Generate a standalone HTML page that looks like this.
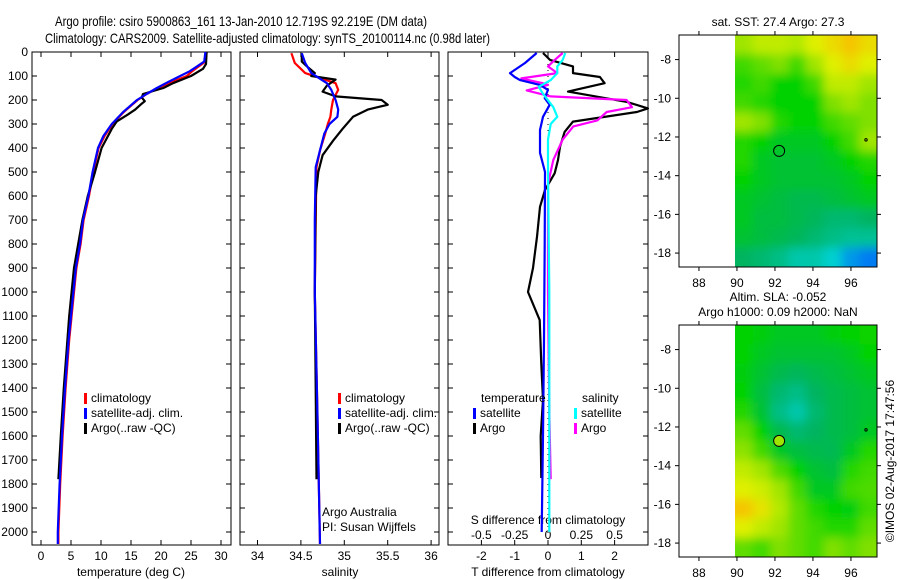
<!DOCTYPE html>
<html><head><meta charset="utf-8"><style>
body{margin:0;background:#fff}
svg{display:block;font-family:"Liberation Sans",sans-serif}
text{font-size:12px;fill:#000}
</style></head><body>
<svg id="s" width="900" height="580" viewBox="0 0 900 580">
<defs>
<filter id="bl" x="0" y="0" width="1" height="1"><feGaussianBlur stdDeviation="5"/></filter>
<clipPath id="c1"><rect x="735" y="35" width="142" height="232"/></clipPath>
<clipPath id="c2"><rect x="735" y="325" width="142" height="232"/></clipPath>
</defs>
<text x="55" y="26" textLength="372" lengthAdjust="spacingAndGlyphs" style="font-size:14px">Argo profile: csiro 5900863_161 13-Jan-2010 12.719S 92.219E (DM data)</text>
<text x="45" y="43" textLength="445" lengthAdjust="spacingAndGlyphs" style="font-size:14px">Climatology: CARS2009. Satellite-adjusted climatology: synTS_20100114.nc (0.98d later)</text>
<g id="g"></g>
</svg>
<script>
// ---- data ----
const tempClimDepth=[0,40,60,80,100,125,150,175,200,250,300,350,400,500,600,700,800,900,1000,1100,1200,1400,1600,1800,2000,2050];
const tempClim=[27.6,27.4,26.3,25.2,24.3,21.8,19.5,17.6,16.1,13.8,11.9,10.6,9.6,8.7,8.0,7.1,6.6,5.9,5.5,5.1,4.7,4.1,3.6,3.2,2.9,2.9];
const tempSat=[27.4,27.2,26.0,24.8,23.2,21.2,19.3,17.6,16.0,13.7,11.8,10.4,9.5,8.6,7.9,7.0,6.5,5.8,5.4,5.0,4.6,4.0,3.5,3.1,2.8,2.8];
const argoDepth=[0,50,70,100,130,150,175,190,205,215,240,260,290,320,400,500,600,700,800,900,1000,1100,1200,1400,1600,1780];
const tempArgo=[27.6,27.5,27.0,25,22,20.4,17,16.8,17.3,16.8,15.7,14.5,12.6,11.8,10.1,9.0,7.8,6.9,6.2,5.5,5.1,4.7,4.4,3.8,3.3,2.9];
const salDepth=[5,46,88,130,158,200,240,270,300,340,410,480,700,1000,1500,2050];
const salClim=[34.39,34.43,34.55,34.9,34.93,34.87,34.85,34.84,34.81,34.78,34.72,34.68,34.67,34.66,34.69,34.72];
const salSat=[34.51,34.55,34.62,34.8,34.85,34.9,34.93,34.92,34.83,34.77,34.72,34.67,34.66,34.66,34.69,34.72];
const salArgoDepth=[5,40,60,88,100,115,140,165,185,200,220,240,270,320,370,430,500,600,1000,1400,1780];
const salArgo=[34.51,34.51,34.57,34.66,34.62,34.9,34.8,34.75,34.9,35.43,35.5,35.27,35.1,34.98,34.87,34.75,34.7,34.67,34.66,34.67,34.68];
const dTSatDepth=[4,46,88,104,117,137,158,192,220,270,325,420,500,800,1200,1600,2000];
const dTSat=[-0.34,-0.69,-1.14,-1.0,-0.84,-0.24,0,-0.1,0.05,-0.15,-0.24,-0.24,-0.09,-0.1,-0.12,-0.15,-0.19];
const dTArgoDepth=[4,33,60,88,104,130,165,208,235,250,290,333,395,450,505,575,645,770,900,1000,1117,1300,1450,1600,1775];
const dTArgo=[-0.15,0.06,0.75,0.75,1.56,1.7,0.6,2.37,3.0,2.67,0.75,0.5,0.36,0.3,0.2,-0.09,-0.24,-0.33,-0.45,-0.6,-0.25,-0.2,-0.15,-0.22,-0.2];
const dSArgoDepth=[4,33,60,88,110,130,137,160,185,200,230,250,285,310,365,450,550,1000,1500,1780];
const dSArgo=[0.11,0.05,0,0.07,-0.2,-0.04,0,-0.16,0.02,0.59,0.63,0.44,0.37,0.19,0.11,0.04,0,0.0,0.01,0.02];
const dSSatDepth=[4,33,60,88,117,145,172,230,270,300,365,505,1000,1500,2000];
const dSSat=[0.13,0.11,0.07,0.07,0.02,-0.07,-0.04,0.04,0.07,0.02,0,0,0.01,0.01,0.01];
const depthTicks=[0,100,200,300,400,500,600,700,800,900,1000,1100,1200,1300,1400,1500,1600,1700,1800,1900,2000];
const tempTicks=[0,5,10,15,20,25,30];
const salTicks=[34,34.5,35,35.5,36];
const dTTicks=[-2,-1,0,1,2];
const dSTicks=[-0.5,-0.25,0,0.25,0.5];
const dSTickLabels=['-0.5','-0.25','0','0.25','0.5'];
const lonTicks=[88,90,92,94,96];
const latTicks=[-8,-10,-12,-14,-16,-18];
const sstGrid=[
[0.75,0.8,0.8,0.78,0.85,0.9,0.95,0.9],
[0.6,0.65,0.7,0.6,0.75,0.85,0.9,0.85],
[0.55,0.6,0.5,0.5,0.6,0.8,0.8,0.75],
[0.6,0.55,0.5,0.5,0.5,0.7,0.75,0.7],
[0.75,0.7,0.55,0.5,0.5,0.6,0.65,0.7],
[0.55,0.5,0.45,0.45,0.45,0.5,0.6,0.75],
[0.55,0.45,0.42,0.42,0.42,0.45,0.5,0.55],
[0.5,0.45,0.42,0.42,0.42,0.42,0.45,0.5],
[0.45,0.42,0.4,0.38,0.38,0.4,0.42,0.45],
[0.45,0.4,0.4,0.38,0.36,0.33,0.33,0.35],
[0.42,0.4,0.38,0.36,0.33,0.3,0.28,0.28],
[0.35,0.33,0.3,0.25,0.25,0.2,0.1,0.05]];
const slaGrid=[
[0.5,0.48,0.45,0.45,0.45,0.48,0.5,0.52],
[0.5,0.45,0.42,0.42,0.42,0.42,0.45,0.5],
[0.48,0.42,0.38,0.36,0.38,0.4,0.42,0.45],
[0.5,0.4,0.33,0.3,0.35,0.38,0.4,0.42],
[0.55,0.42,0.3,0.25,0.33,0.38,0.4,0.42],
[0.65,0.5,0.38,0.33,0.35,0.38,0.4,0.45],
[0.72,0.6,0.45,0.4,0.38,0.37,0.45,0.55],
[0.8,0.75,0.62,0.5,0.42,0.4,0.55,0.6],
[0.85,0.82,0.75,0.6,0.45,0.45,0.6,0.62],
[0.95,0.88,0.78,0.65,0.55,0.5,0.48,0.6],
[0.85,0.8,0.75,0.65,0.6,0.55,0.55,0.65],
[0.65,0.6,0.7,0.65,0.6,0.7,0.65,0.7]];
const argoLon=92.22, argoLat=-12.72;

// ---- helpers ----
const NS='http://www.w3.org/2000/svg';
const G=document.getElementById('g');
function mk(t,a,p){const e=document.createElementNS(NS,t);for(const k in a)e.setAttribute(k,a[k]);(p||G).appendChild(e);return e;}
const Y=d=>52+d*0.24;
const XT=v=>41+v*6;
const XS=v=>257.5+(v-34)*86.8;
const XdT=v=>548+v*33.3;
const XdS=v=>548+v*133.3;

function frame(x0,x1,name){const r=mk('rect',{x:x0,y:52,width:x1-x0,height:493,fill:'none',stroke:'#000','stroke-width':1});

}
function line(depths,vals,xf,color,name){
 const pts=depths.map((d,i)=>xf(vals[i]).toFixed(1)+','+Y(d).toFixed(1)).join(' ');
 const p=mk('polyline',{points:pts,fill:'none',stroke:color,'stroke-width':2.2,'stroke-linejoin':'round'});
 
 }
function txt(x,y,s,anchor,name,extra){const t=mk('text',Object.assign({x:x,y:y,'text-anchor':anchor||'start'},extra||{}));t.textContent=s;
 
 return t;}
function xticks(ticks,labels,xf,top,bot,ly,name){ticks.forEach((v,i)=>{const x=xf(v);
 mk('line',{x1:x,x2:x,y1:top,y2:top+5,stroke:'#000'});mk('line',{x1:x,x2:x,y1:bot,y2:bot-5,stroke:'#000'});
 if(ly)txt(x,ly,labels[i],'middle',name);});}
function yticks(x0,x1,label){depthTicks.forEach(d=>{const y=Y(d);
 mk('line',{x1:x0,x2:x0+5,y1:y,y2:y,stroke:'#000'});mk('line',{x1:x1,x2:x1-5,y1:y,y2:y,stroke:'#000'});
 if(label)txt(x0-4,y+4,String(d),'end','depth-tick-label');});}
function legend(x,y,color,s,name){const r=mk('rect',{x:x,y:y-9,width:3,height:11,fill:color});
 
 
 txt(x+7,y,s,'start',name);}

// Panel 1: temperature
frame(32,231,'temperature-panel');
xticks(tempTicks,tempTicks.map(String),XT,52,545,560,'temperature-tick-label');
yticks(32,231,true);
line(tempClimDepth,tempClim,XT,'#f00','temp-climatology-line');
line(argoDepth,tempArgo,XT,'#000','temp-argo-line');
line(tempClimDepth,tempSat,XT,'#00f','temp-satellite-line');
legend(84,402,'#f00','climatology','legend-climatology');
legend(84,417,'#00f','satellite-adj. clim.','legend-satellite');
legend(84,432,'#000','Argo(..raw -QC)','legend-argo');
txt(131,576,'temperature (deg C)','middle','temperature-axis-title');

// Panel 2: salinity
frame(240,439,'salinity-panel');
xticks(salTicks,salTicks.map(String),XS,52,545,560,'salinity-tick-label');
yticks(240,439,false);
line(salDepth,salClim,XS,'#f00','sal-climatology-line');
line(salArgoDepth,salArgo,XS,'#000','sal-argo-line');
line(salDepth,salSat,XS,'#00f','sal-satellite-line');
legend(338,402,'#f00','climatology','legend-climatology-2');
legend(338,417,'#00f','satellite-adj. clim.','legend-satellite-2');
legend(338,432,'#000','Argo(..raw -QC)','legend-argo-2');
txt(322,516,'Argo Australia','start','argo-australia-label');
txt(322,531,'PI: Susan Wijffels','start','pi-label');
txt(340,576,'salinity','middle','salinity-axis-title');

// Panel 3: differences
frame(448,648,'difference-panel');
mk('line',{x1:548,x2:548,y1:52,y2:545,stroke:'#000','stroke-dasharray':'1,5'});
xticks(dTTicks,dTTicks.map(String),XdT,52,545,560,'t-diff-tick-label');
yticks(448,648,false);
dSTicks.forEach((v,i)=>txt(XdS(v),539,dSTickLabels[i],'middle','s-diff-tick-label'));
txt(548,524,'S difference from climatology','middle','s-diff-axis-title');
line(dTArgoDepth,dTArgo,XdT,'#000','t-diff-argo-line');
line(dSArgoDepth,dSArgo,XdS,'#f0f','s-diff-argo-line');
line(dTSatDepth,dTSat,XdT,'#00f','t-diff-satellite-line');
line(dSSatDepth,dSSat,XdS,'#0ff','s-diff-satellite-line');
txt(481,402,'temperature','start','legend-temperature-heading');
legend(473,417,'#00f','satellite','legend-t-satellite');
legend(473,432,'#000','Argo','legend-t-argo');
txt(582,402,'salinity','start','legend-salinity-heading');
legend(574,417,'#0ff','satellite','legend-s-satellite');
legend(574,432,'#f0f','Argo','legend-s-argo');
txt(548,576,'T difference from climatology','middle','t-diff-axis-title');

// Maps
const stops=[[0,[0,96,255]],[0.2,[0,208,208]],[0.35,[0,180,96]],[0.5,[0,210,0]],[0.7,[128,224,0]],[0.85,[224,240,0]],[1,[255,176,0]]];
function cmap(v){for(let i=1;i<stops.length;i++){if(v<=stops[i][0]){const a=stops[i-1],b=stops[i],t=(v-a[0])/(b[0]-a[0]);
 const c=a[1].map((x,k)=>Math.round(x+(b[1][k]-x)*t));return 'rgb('+c.join(',')+')';}}return 'rgb(255,176,0)';}
function map(top,grid,clip,name,dotFill){
 const LX=lon=>679+(lon-86.95)*19.0;
 const LY=lat=>top+(-6.73-lat)*19.35;
 const grp=mk('g',{'clip-path':'url(#'+clip+')'});
 
 
 const inner=mk('g',{filter:'url(#bl)'},grp);
 mk('rect',{x:725,y:top-10,width:165,height:255,fill:cmap(grid[0][0])},inner);
 const nr=grid.length,nc=grid[0].length,cw=142/nc,ch=232/nr;
 grid.forEach((row,r)=>row.forEach((v,c)=>{
  const x=735+c*cw-(c==0?12:0),w=cw+0.5+(c==0?12:0)+(c==nc-1?12:0);
  const y=top+r*ch-(r==0?12:0),h=ch+0.5+(r==0?12:0)+(r==nr-1?12:0);
  mk('rect',{x:x,y:y,width:w,height:h,fill:cmap(v)},inner);}));
 const f=mk('rect',{x:679,y:top,width:198,height:232,fill:'none',stroke:'#000'});
 
 
 lonTicks.forEach(l=>{const x=LX(l);mk('line',{x1:x,x2:x,y1:top,y2:top-4,stroke:'#000'});mk('line',{x1:x,x2:x,y1:top+232,y2:top+236,stroke:'#000'});
  txt(x,top+252,String(l),'middle','lon-tick-label');});
 latTicks.forEach(l=>{const y=LY(l);mk('line',{x1:679,x2:675,y1:y,y2:y,stroke:'#000'});mk('line',{x1:877,x2:881,y1:y,y2:y,stroke:'#000'});
  txt(671,y+4,String(l),'end','lat-tick-label');});
 const c=mk('circle',{cx:LX(argoLon),cy:LY(argoLat),r:5.5,fill:dotFill,stroke:'#000','stroke-width':1});
 
 
 mk('circle',{cx:866,cy:LY(-12.15),r:1.2,fill:'none',stroke:'#000'});
}
map(35,sstGrid,'c1','sst-map','none');
txt(778,26,'sat. SST: 27.4  Argo: 27.3','middle','sst-map-title');
map(325,slaGrid,'c2','sla-map',cmap(0.75));
txt(778,301,'Altim. SLA: -0.052','middle','sla-map-title');
txt(778,316,'Argo h1000: 0.09 h2000: NaN','middle','sla-map-subtitle');
txt(0,0,'©IMOS 02-Aug-2017 17:47:56','middle','timestamp-label',{transform:'translate(894,461) rotate(-90)'});
</script>
</body></html>
